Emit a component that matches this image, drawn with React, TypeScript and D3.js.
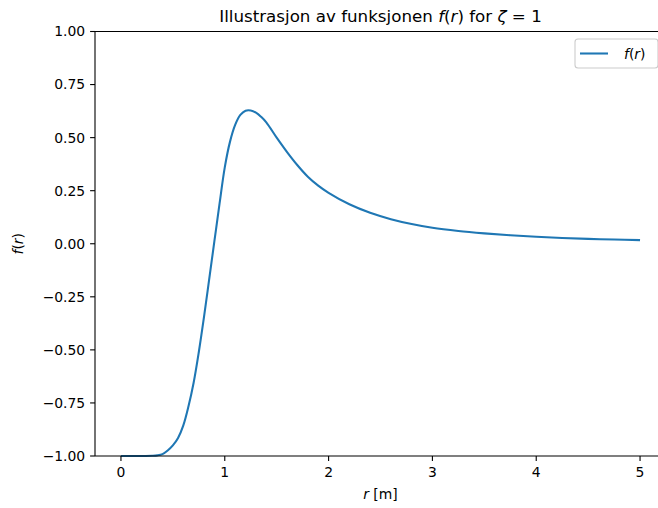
import React from 'react';
import * as d3 from 'd3';

// r-values and f(r)
const rValues = [
  0, 0.1, 0.2, 0.3, 0.35, 0.4, 0.45, 0.5, 0.55, 0.6, 0.65, 0.7, 0.75, 0.8, 0.85,
  0.9, 0.95, 1.0, 1.05, 1.1, 1.15, 1.2, 1.25, 1.3, 1.35, 1.4, 1.5, 1.6, 1.7, 1.8,
  1.9, 2.0, 2.2, 2.4, 2.6, 2.8, 3.0, 3.25, 3.5, 3.75, 4.0, 4.25, 4.5, 4.75, 5.0,
];
const fValues = [
  -1.0, -1.0, -1.0, -0.999, -0.997, -0.991, -0.974, -0.95, -0.915, -0.857, -0.767,
  -0.655, -0.51, -0.345, -0.167, 0.012, 0.19, 0.36, 0.48, 0.56, 0.607, 0.627, 0.628,
  0.618, 0.598, 0.572, 0.5, 0.432, 0.37, 0.316, 0.274, 0.24, 0.186, 0.146, 0.116,
  0.093, 0.075, 0.06, 0.049, 0.04, 0.033, 0.027, 0.023, 0.02, 0.017,
];
const xTicks = [0, 1, 2, 3, 4, 5];
const yTicks = [-1, -0.75, -0.5, -0.25, 0, 0.25, 0.5, 0.75, 1];

const W = 658;
const H = 508;
const font = '"DejaVu Sans", sans-serif';
const blue = '#1f77b4';

const App = () => {
  const left = 95;
  const right = 666; // axes run past the figure edge
  const top = 31.5;
  const bottom = 456;

  const x = d3.scaleLinear().domain([-0.25, 5.25]).range([left, right]);
  const y = d3.scaleLinear().domain([-1, 1]).range([bottom, top]);

  const data = rValues.map((r, i) => ({ r, f: fValues[i] }));
  const line = d3.line<{ r: number; f: number }>()
    .x((d) => x(d.r))
    .y((d) => y(d.f))
    .curve(d3.curveCatmullRom);

  const fmtY = (v: number) => d3.format('.2f')(v).replace('-', '\u2212');
  const midX = (left + right) / 2;

  return (
    <svg
      width={W}
      height={H}
      style={{ position: 'absolute', left: 0, top: 0, background: '#fff' }}
      fontFamily={font}
    >
      <rect width={W} height={H} fill="#fff" />

      <text x={midX} y={22} fontSize={16.7} textAnchor="middle" fill="#000">
        Illustrasjon av funksjonen <tspan fontStyle="italic">f</tspan>(<tspan fontStyle="italic">r</tspan>) for{' '}
        <tspan fontStyle="italic">ζ</tspan> = 1
      </text>

      <path d={line(data) || ''} fill="none" stroke={blue} strokeWidth={2.08} strokeLinejoin="round" strokeLinecap="butt" />

      {/* spines */}
      <line x1={left} x2={left} y1={top} y2={bottom} stroke="#000" strokeWidth={1.1} />
      <line x1={left} x2={right} y1={top} y2={top} stroke="#000" strokeWidth={1.1} />
      <line x1={left} x2={right} y1={bottom} y2={bottom} stroke="#000" strokeWidth={1.1} />

      {xTicks.map((t) => (
        <g key={'x' + t} transform={`translate(${x(t)},${bottom})`}>
          <line y1={0} y2={4.9} stroke="#000" strokeWidth={1.1} />
          <text y={21} fontSize={13.9} textAnchor="middle" fill="#000">{t}</text>
        </g>
      ))}

      {yTicks.map((t) => (
        <g key={'y' + t} transform={`translate(${left},${y(t)})`}>
          <line x1={0} x2={-4.9} stroke="#000" strokeWidth={1.1} />
          <text x={-9.8} dy="0.35em" fontSize={13.9} textAnchor="end" fill="#000">{fmtY(t)}</text>
        </g>
      ))}

      <text x={midX} y={499} fontSize={13.9} textAnchor="middle" fill="#000">
        <tspan fontStyle="italic">r</tspan> [m]
      </text>
      <text
        transform={`translate(23,${(top + bottom) / 2}) rotate(-90)`}
        fontSize={13.9}
        textAnchor="middle"
        fill="#000"
      >
        <tspan fontStyle="italic">f</tspan>(<tspan fontStyle="italic">r</tspan>)
      </text>

      {/* legend */}
      <g>
        <rect x={575} y={39} width={83} height={29} rx={3} fill="#fff" fillOpacity={0.8} stroke="#ccc" strokeWidth={1.1} />
        <line x1={580} x2={608} y1={53.5} y2={53.5} stroke={blue} strokeWidth={2.08} />
        <text x={624} y={58.5} fontSize={13.9} fill="#000">
          <tspan fontStyle="italic">f</tspan>(<tspan fontStyle="italic">r</tspan>)
        </text>
      </g>
    </svg>
  );
};

export default App;
